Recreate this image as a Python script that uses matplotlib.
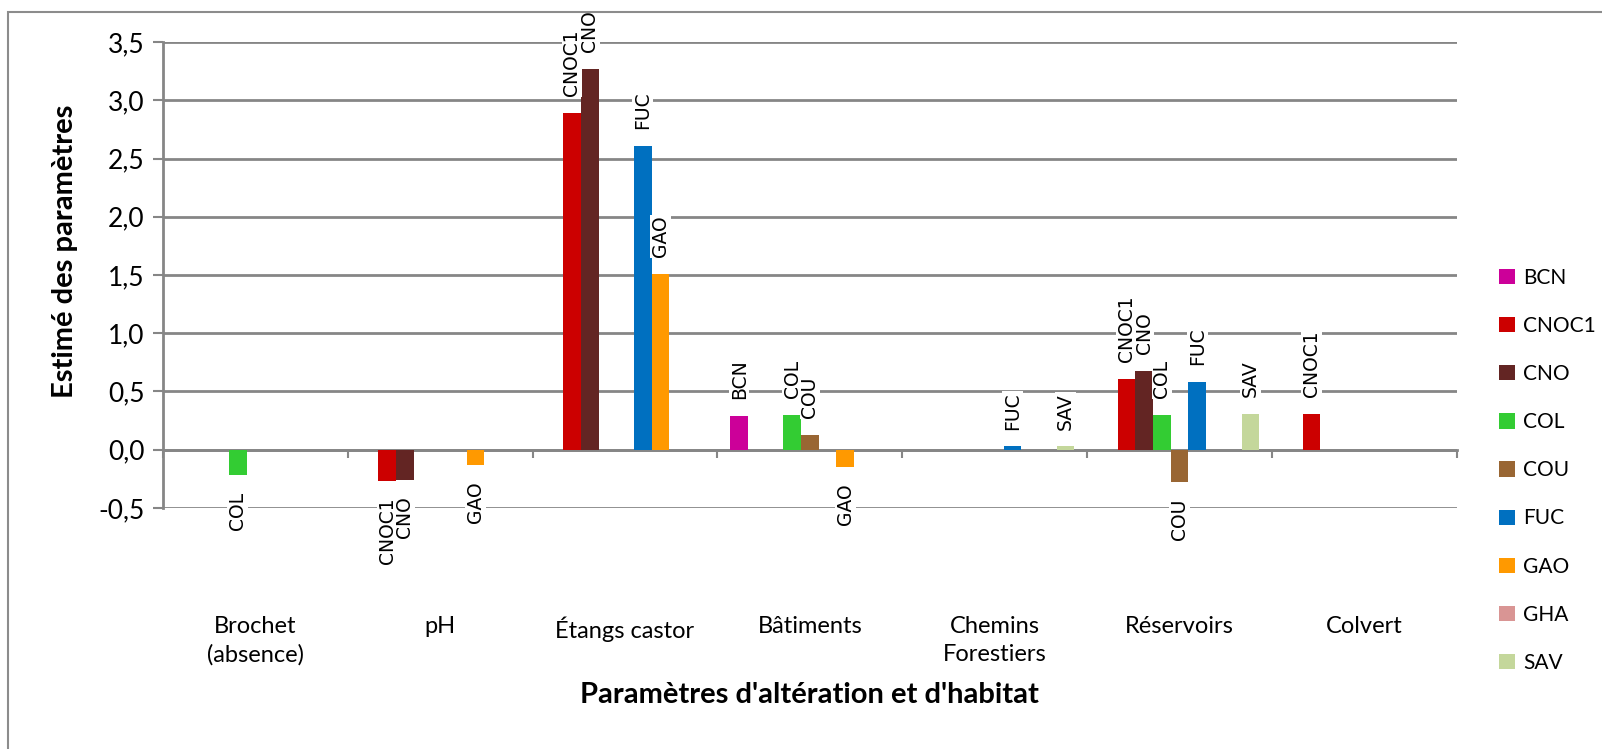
import numpy as np
import matplotlib.pyplot as plt
from matplotlib.patches import Rectangle

plt.rcParams['font.family'] = ['Lato', 'DejaVu Sans']

# categories on the x axis
categories = ['Brochet\n(absence)', 'pH', 'Étangs castor', 'Bâtiments',
              'Chemins\nForestiers', 'Réservoirs', 'Colvert']

# series (nan = no bar)
series = ['BCN', 'CNOC1', 'CNO', 'COL', 'COU', 'FUC', 'GAO', 'GHA', 'SAV']
nan = np.nan
BCN   = [nan,   nan,   nan,  0.29,  nan,  nan,  nan]
CNOC1 = [nan, -0.27,  2.89,   nan,  nan, 0.61, 0.31]
CNO   = [nan, -0.26,  3.27,   nan,  nan, 0.68,  nan]
COL   = [-0.22, nan,   nan,  0.30,  nan, 0.30,  nan]
COU   = [nan,   nan,   nan,  0.13,  nan, -0.28, nan]
FUC   = [nan,   nan,  2.61,   nan, 0.03, 0.58,  nan]
GAO   = [nan, -0.13,  1.51, -0.15,  nan,  nan,  nan]
GHA   = [nan,   nan,   nan,   nan,  nan,  nan,  nan]
SAV   = [nan,   nan,   nan,   nan, 0.03, 0.31,  nan]
values = [BCN, CNOC1, CNO, COL, COU, FUC, GAO, GHA, SAV]

colors = ['#CC0099', '#CC0000', '#632523', '#33CC33', '#996633',
          '#0070C0', '#FF9900', '#D99594', '#C4D79B']

ymin, ymax = -0.5, 3.5
grid_col = '#868686'

fig = plt.figure(figsize=(16.02, 7.49), dpi=100)
ax = fig.add_axes([0.1017, 0.3218, 0.8077, 0.6221])

# chart border
fig.patches.append(Rectangle((8 / 1602, -0.1), 1.2, 1 - 12 / 749 + 0.1,
                             transform=fig.transFigure, fill=False,
                             edgecolor='#8c8c8c', linewidth=1.5))

x = np.arange(len(categories))
n = len(series)
width = 0.0957
for i, (name, vals, col) in enumerate(zip(series, values, colors)):
    pos = x + (i - (n - 1) / 2) * width
    v = np.array(vals, dtype=float)
    ax.bar(pos, v, width=width, color=col, label=name, zorder=3)
    for p, val in zip(pos, v):
        if np.isnan(val):
            continue
        if val >= 0:
            ax.annotate(name, (p, val), xytext=(0, 12), textcoords='offset points',
                        rotation=90, ha='center', va='bottom', fontsize=13.5,
                        family='DejaVu Sans', zorder=4,
                        bbox=dict(facecolor='white', edgecolor='none', pad=0.5))
        else:
            ax.annotate(name, (p, val), xytext=(0, -12), textcoords='offset points',
                        rotation=90, ha='center', va='top', fontsize=13.5,
                        family='DejaVu Sans', zorder=4,
                        bbox=dict(facecolor='white', edgecolor='none', pad=0.5))

ax.set_ylim(ymin, ymax)
ax.set_xlim(-0.5, len(categories) - 0.5)
yt = np.arange(-0.5, 3.51, 0.5)
ax.set_yticks(yt)
ax.set_yticklabels([('%.1f' % t).replace('.', ',') for t in yt])
ax.yaxis.grid(True, color=grid_col, linewidth=2, zorder=0)
ax.set_axisbelow(True)
ax.tick_params(axis='y', labelsize=19, length=7, width=1.5, color=grid_col, pad=6)

for s in ['top', 'right', 'bottom']:
    ax.spines[s].set_visible(False)
ax.spines['left'].set_color(grid_col)
ax.spines['left'].set_linewidth(2)

# category labels far below the plot
ax.set_xticks(x)
ax.set_xticklabels(categories, fontsize=17, linespacing=1.4)
ax.tick_params(axis='x', length=0, pad=78)

# zero axis with boundary ticks
zero_loc = (0 - ymin) / (ymax - ymin)
sec = ax.secondary_xaxis(zero_loc)
sec.set_xticks(np.arange(len(categories) + 1) - 0.5)
sec.set_xticklabels([])
sec.spines['bottom'].set_color(grid_col)
sec.spines['bottom'].set_linewidth(2)
sec.tick_params(axis='x', length=6, width=1.5, color=grid_col)

ax.set_ylabel('Estimé des paramètres', fontsize=21, fontweight='bold')
ax.yaxis.set_label_coords(-0.066, 0.55)
ax.set_xlabel("Paramètres d'altération et d'habitat", fontsize=21,
              fontweight='bold', labelpad=12)

fig.legend(loc='center left', bbox_to_anchor=(0.924, 0.372), frameon=False,
           fontsize=15, handlelength=0.75, handleheight=0.75, handletextpad=0.4,
           labelspacing=1.35)

plt.savefig('out.png', dpi=100)
